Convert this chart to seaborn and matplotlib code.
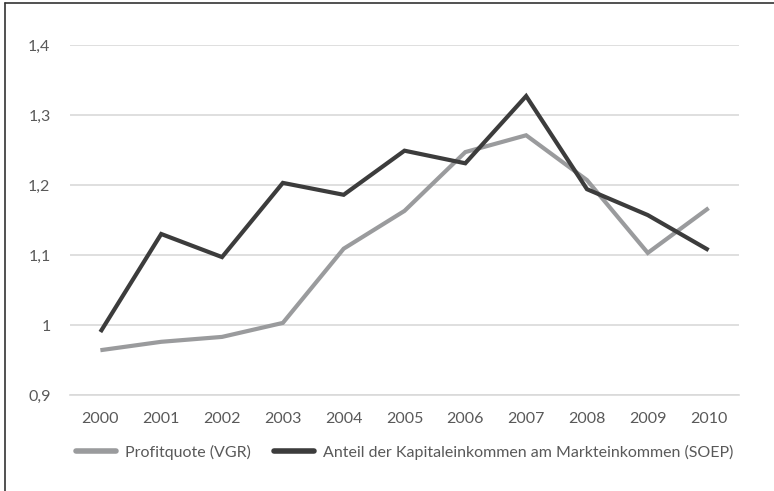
import matplotlib
matplotlib.use("Agg")
import matplotlib.pyplot as plt
import matplotlib.ticker as mticker
from matplotlib.lines import Line2D
import numpy as np
import pandas as pd
import seaborn as sns

# ── Data ─────────────────────────────────────────────────────────────────────
YEARS = ["2000", "2001", "2002", "2003", "2004", "2005",
         "2006", "2007", "2008", "2009", "2010"]
PROFITQUOTE = [0.964, 0.976, 0.983, 1.003, 1.109, 1.163,
               1.247, 1.271, 1.207, 1.103, 1.167]
SOEP_ANTEIL = [0.990, 1.130, 1.097, 1.203, 1.186, 1.249,
               1.231, 1.327, 1.194, 1.157, 1.107]
LABEL_VGR = "Profitquote (VGR)"
LABEL_SOEP = "Anteil der Kapitaleinkommen am Markteinkommen (SOEP)"
Y_TICKS = [0.9, 1.0, 1.1, 1.2, 1.3, 1.4]
Y_TICK_LABELS = ["0,9", "1", "1,1", "1,2", "1,3", "1,4"]

LIGHT = "#9a9b9d"
DARK = "#3c3c3c"
GRID = "#d9d9d9"
TEXT = "#595959"
FS = 11.5

sns.set_theme(style="white")
plt.rcParams["font.family"] = ["Lato", "DejaVu Sans"]

pos = np.arange(len(YEARS))
df = pd.DataFrame({
    "pos": np.concatenate([pos, pos]),
    "wert": PROFITQUOTE + SOEP_ANTEIL,
    "reihe": [LABEL_VGR] * len(YEARS) + [LABEL_SOEP] * len(YEARS),
})

fig = plt.figure(figsize=(7.74, 4.91), dpi=100)
ax = fig.add_axes([0.0904, 0.1955, 0.8644, 0.7129])

sns.lineplot(data=df, x="pos", y="wert", hue="reihe",
             palette={LABEL_VGR: LIGHT, LABEL_SOEP: DARK},
             linewidth=3.0, ax=ax, legend=False)
for line in ax.lines:
    line.set_solid_capstyle("butt")
    line.set_solid_joinstyle("miter")

ax.set_xlim(-0.5, len(YEARS) - 0.5)
ax.set_ylim(0.9, 1.4)
ax.set_yticks(Y_TICKS)
ax.set_yticklabels(Y_TICK_LABELS)
ax.set_xticks(pos)
ax.set_xticklabels(YEARS)
ax.xaxis.set_minor_locator(mticker.FixedLocator(np.arange(-0.5, len(YEARS), 1.0)))
ax.tick_params(axis="x", which="major", length=0, pad=12, labelsize=FS, labelcolor=TEXT)
ax.tick_params(axis="x", which="minor", direction="in", length=5, width=1, color=GRID)
ax.tick_params(axis="y", length=0, pad=14, labelsize=FS, labelcolor=TEXT)
ax.set_xlabel("")
ax.set_ylabel("")

ax.grid(axis="y", color=GRID, linewidth=1.2)
ax.set_axisbelow(True)
for side in ["left", "right", "top"]:
    ax.spines[side].set_visible(False)
ax.spines["bottom"].set_color(GRID)
ax.spines["bottom"].set_linewidth(1.2)

handles = [Line2D([], [], color=LIGHT, linewidth=4, solid_capstyle="round"),
           Line2D([], [], color=DARK, linewidth=4, solid_capstyle="round")]
fig.legend(handles, [LABEL_VGR, LABEL_SOEP], loc="center",
           bbox_to_anchor=(0.523, 0.079), ncol=2, frameon=False,
           handlelength=2.5, handletextpad=0.6, columnspacing=1.4,
           prop={"size": FS}, labelcolor=TEXT)

# frame of the original box (only left and top edges visible)
fig.add_artist(Line2D([5 / 774, 5 / 774], [0, 1 - 3 / 491], color="#333333",
                      linewidth=1.2, transform=fig.transFigure))
fig.add_artist(Line2D([5 / 774, 1], [1 - 3 / 491, 1 - 3 / 491], color="#333333",
                      linewidth=1.2, transform=fig.transFigure))

fig.savefig("out.png", dpi=100, facecolor="white")
